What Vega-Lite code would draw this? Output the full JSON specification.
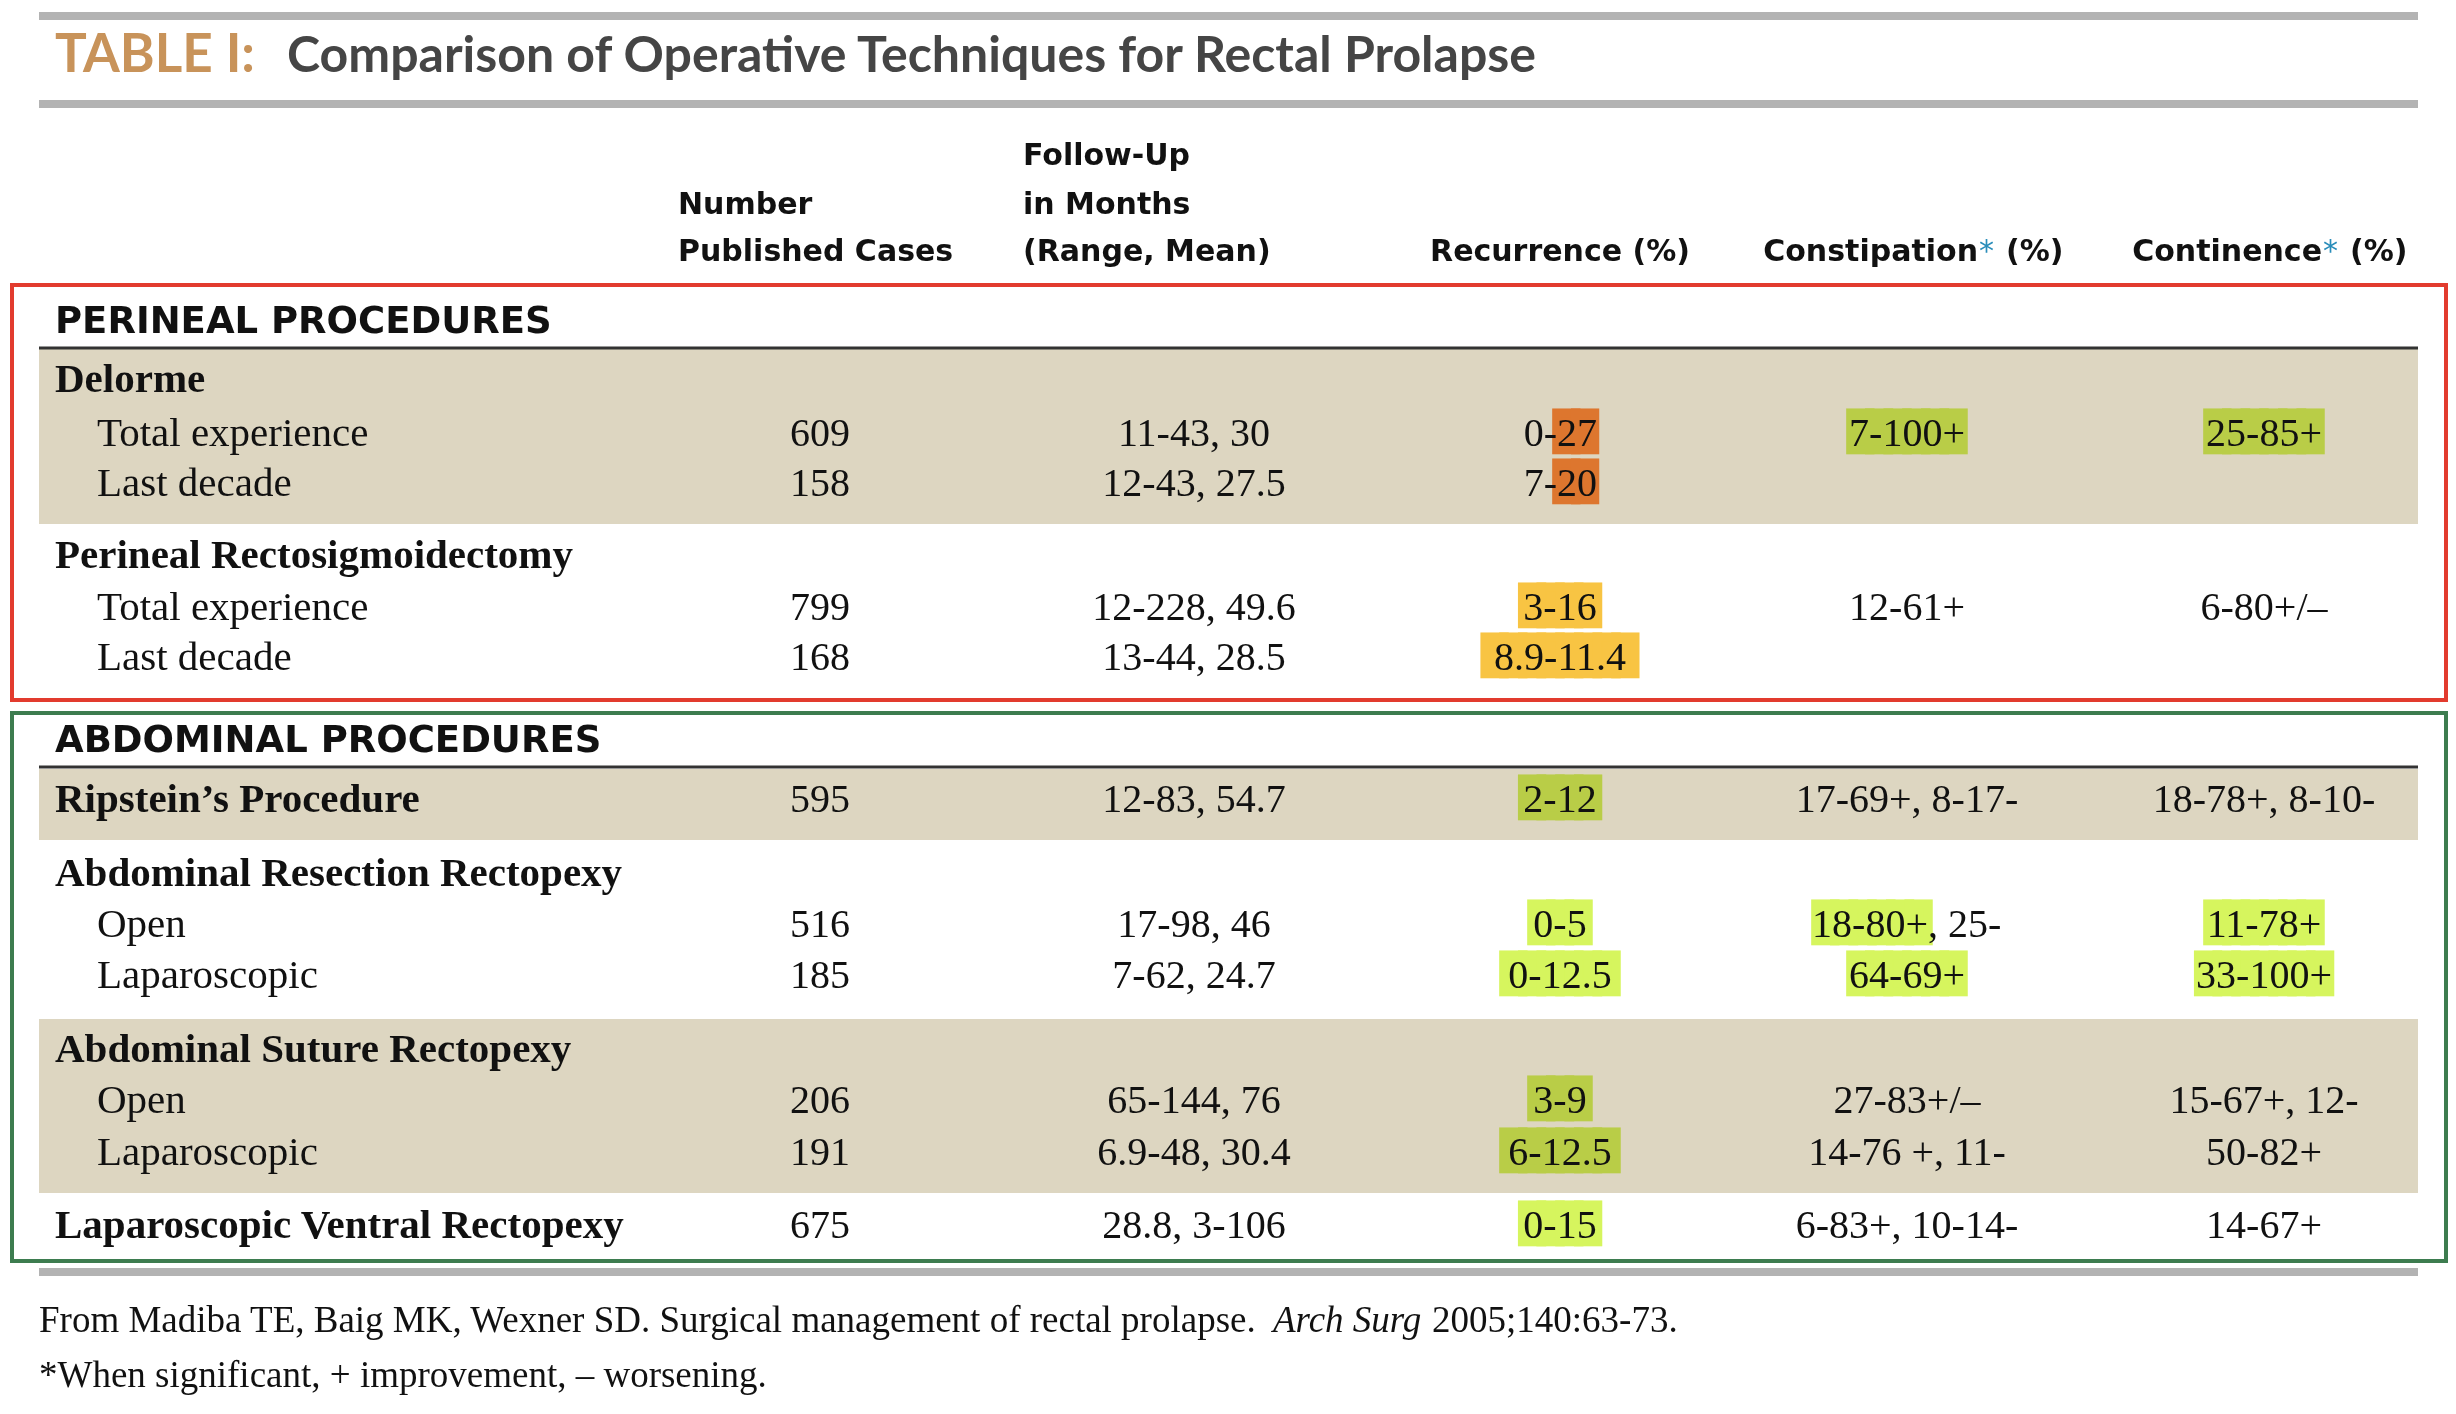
{
  "$schema": "https://vega.github.io/schema/vega-lite/v6.json",
  "width": 2456,
  "height": 1414,
  "autosize": {"type": "none"},
  "padding": 0,
  "background": "white",
  "config": {"view": {"stroke": null}},
  "datasets": {
    "cells": [
      {"r": 8, "c": 5, "text": "609"},
      {"r": 8, "c": 7, "text": "11-43, 30"},
      {"r": 8, "c": 8, "text": "0-27", "hl": "27", "hlc": "orange"},
      {"r": 8, "c": 9, "text": "7-100+", "hl": "7-100+", "hlc": "green"},
      {"r": 8, "c": 11, "text": "25-85+", "hl": "25-85+", "hlc": "green"},
      {"r": 9, "c": 5, "text": "158"},
      {"r": 9, "c": 7, "text": "12-43, 27.5"},
      {"r": 9, "c": 8, "text": "7-20", "hl": "20", "hlc": "orange"},
      {"r": 11, "c": 5, "text": "799"},
      {"r": 11, "c": 7, "text": "12-228, 49.6"},
      {"r": 11, "c": 8, "text": "3-16", "hl": "3-16", "hlc": "yellow"},
      {"r": 11, "c": 9, "text": "12-61+"},
      {"r": 11, "c": 11, "text": "6-80+/–"},
      {"r": 12, "c": 5, "text": "168"},
      {"r": 12, "c": 7, "text": "13-44, 28.5"},
      {"r": 12, "c": 8, "text": "8.9-11.4", "hl": "8.9-11.4", "hlc": "yellow"},
      {"r": 14, "c": 5, "text": "595"},
      {"r": 14, "c": 7, "text": "12-83, 54.7"},
      {"r": 14, "c": 8, "text": "2-12", "hl": "2-12", "hlc": "green"},
      {"r": 14, "c": 9, "text": "17-69+, 8-17-"},
      {"r": 14, "c": 11, "text": "18-78+, 8-10-"},
      {"r": 16, "c": 5, "text": "516"},
      {"r": 16, "c": 7, "text": "17-98, 46"},
      {"r": 16, "c": 8, "text": "0-5", "hl": "0-5", "hlc": "green"},
      {"r": 16, "c": 9, "text": "18-80+, 25-", "hl": "18-80+", "hlc": "green"},
      {"r": 16, "c": 11, "text": "11-78+", "hl": "11-78+", "hlc": "green"},
      {"r": 17, "c": 5, "text": "185"},
      {"r": 17, "c": 7, "text": "7-62, 24.7"},
      {"r": 17, "c": 8, "text": "0-12.5", "hl": "0-12.5", "hlc": "green"},
      {"r": 17, "c": 9, "text": "64-69+", "hl": "64-69+", "hlc": "green"},
      {"r": 17, "c": 11, "text": "33-100+", "hl": "33-100+", "hlc": "green"},
      {"r": 19, "c": 5, "text": "206"},
      {"r": 19, "c": 7, "text": "65-144, 76"},
      {"r": 19, "c": 8, "text": "3-9", "hl": "3-9", "hlc": "green"},
      {"r": 19, "c": 9, "text": "27-83+/–"},
      {"r": 19, "c": 11, "text": "15-67+, 12-"},
      {"r": 20, "c": 5, "text": "191"},
      {"r": 20, "c": 7, "text": "6.9-48, 30.4"},
      {"r": 20, "c": 8, "text": "6-12.5", "hl": "6-12.5", "hlc": "green"},
      {"r": 20, "c": 9, "text": "14-76 +, 11-"},
      {"r": 20, "c": 11, "text": "50-82+"},
      {"r": 21, "c": 5, "text": "675"},
      {"r": 21, "c": 7, "text": "28.8, 3-106"},
      {"r": 21, "c": 8, "text": "0-15", "hl": "0-15", "hlc": "green"},
      {"r": 21, "c": 9, "text": "6-83+, 10-14-"},
      {"r": 21, "c": 11, "text": "14-67+"}
    ],
    "labels": [
      {"r": 6, "level": "section", "text": "PERINEAL PROCEDURES"},
      {"r": 7, "level": "group", "text": "Delorme"},
      {"r": 8, "level": "item", "text": "Total experience"},
      {"r": 9, "level": "item", "text": "Last decade"},
      {"r": 10, "level": "group", "text": "Perineal Rectosigmoidectomy"},
      {"r": 11, "level": "item", "text": "Total experience"},
      {"r": 12, "level": "item", "text": "Last decade"},
      {"r": 13, "level": "section", "text": "ABDOMINAL PROCEDURES"},
      {"r": 14, "level": "group", "text": "Ripstein’s Procedure"},
      {"r": 15, "level": "group", "text": "Abdominal Resection Rectopexy"},
      {"r": 16, "level": "item", "text": "Open"},
      {"r": 17, "level": "item", "text": "Laparoscopic"},
      {"r": 18, "level": "group", "text": "Abdominal Suture Rectopexy"},
      {"r": 19, "level": "item", "text": "Open"},
      {"r": 20, "level": "item", "text": "Laparoscopic"},
      {"r": 21, "level": "group", "text": "Laparoscopic Ventral Rectopexy"}
    ],
    "headers": [
      {"r": 4, "c": 4, "kind": "left", "text": "Number"},
      {"r": 5, "c": 4, "kind": "left", "text": "Published Cases"},
      {"r": 3, "c": 6, "kind": "left", "text": "Follow-Up"},
      {"r": 4, "c": 6, "kind": "left", "text": "in Months"},
      {"r": 5, "c": 6, "kind": "left", "text": "(Range, Mean)"},
      {"r": 5, "c": 8, "kind": "center", "text": "Recurrence (%)"},
      {"r": 5, "c": 10, "kind": "star", "text": "Constipation", "star": "*", "tail": "(%)"},
      {"r": 5, "c": 12, "kind": "star", "text": "Continence", "star": "*", "tail": "(%)"}
    ],
    "bands": [
      {"group": "Delorme", "r1": 7, "r2": 9},
      {"group": "Ripstein", "r1": 14, "r2": 14},
      {"group": "Suture", "r1": 18, "r2": 20}
    ],
    "boxes": [
      {"section": "Perineal", "r1": 6, "r2": 12},
      {"section": "Abdominal", "r1": 13, "r2": 21}
    ],
    "bars": [{"r": 0}, {"r": 2}, {"r": 22}],
    "sectionRules": [{"r": 6}, {"r": 13}],
    "title": [{"r": 1, "label": "TABLE I:", "caption": "Comparison of Operative Techniques for Rectal Prolapse"}],
    "footer": [
      {"r": 23, "a": "From Madiba TE, Baig MK, Wexner SD. Surgical management of rectal prolapse.", "b": "Arch Surg", "d": "2005;140:63-73."},
      {"r": 24, "a": "*When significant, + improvement, – worsening."}
    ]
  },
  "layer": [
    {
      "data": {"name": "bands"},
      "mark": {"type": "rect", "color": "#DDD6C1", "yOffset": -43, "y2Offset": 28},
      "encoding": {
        "x": {"datum": 1, "type": "quantitative", "scale": {"domain": [0,1,2,3,4,5,6,7,8,9,10,11,12,13,14], "range": [12,39,55,97,678,820,1023,1194,1560,1907,1979,2264,2323,2418,2446], "zero": false, "nice": false}, "axis": null},
        "x2": {"datum": 13},
        "y": {"field": "r1", "type": "quantitative", "scale": {"domain": [0,1,2,3,4,5,6,7,8,9,10,11,12,13,14,15,16,17,18,19,20,21,22,23,24], "range": [16,72,104,165,214,261,333,392,446,496,568,620,670,752,812,886,937,988,1062,1113,1165,1238,1272,1332,1387], "zero": false, "nice": false}, "axis": null},
        "y2": {"field": "r2"}
      }
    },
    {
      "data": {"name": "bars"},
      "mark": {"type": "rule", "color": "#B3B3B3", "strokeWidth": 8},
      "encoding": {
        "x": {"datum": 1, "type": "quantitative"},
        "x2": {"datum": 13},
        "y": {"field": "r", "type": "quantitative"}
      }
    },
    {
      "data": {"name": "sectionRules"},
      "mark": {"type": "rule", "color": "#333333", "strokeWidth": 3, "yOffset": 15},
      "encoding": {
        "x": {"datum": 1, "type": "quantitative"},
        "x2": {"datum": 13},
        "y": {"field": "r", "type": "quantitative"}
      }
    },
    {
      "data": {"name": "boxes"},
      "transform": [{"filter": "datum.section == 'Perineal'"}],
      "mark": {"type": "rect", "filled": false, "stroke": "#E23B2E", "strokeWidth": 4, "yOffset": -48, "y2Offset": 30},
      "encoding": {
        "x": {"datum": 0, "type": "quantitative"},
        "x2": {"datum": 14},
        "y": {"field": "r1", "type": "quantitative"},
        "y2": {"field": "r2"}
      }
    },
    {
      "data": {"name": "boxes"},
      "transform": [{"filter": "datum.section == 'Abdominal'"}],
      "mark": {"type": "rect", "filled": false, "stroke": "#3D7C4F", "strokeWidth": 4, "yOffset": -39, "y2Offset": 23},
      "encoding": {
        "x": {"datum": 0, "type": "quantitative"},
        "x2": {"datum": 14},
        "y": {"field": "r1", "type": "quantitative"},
        "y2": {"field": "r2"}
      }
    },
    {
      "data": {"name": "cells"},
      "transform": [
        {"calculate": "isValid(datum.hl) ? indexof(datum.text, datum.hl) : -1", "as": "i"},
        {"calculate": "datum.i >= 0 ? substring(datum.text, 0, datum.i) : ''", "as": "pre"},
        {"calculate": "datum.i >= 0 ? substring(datum.text, datum.i + length(datum.hl)) : ''", "as": "post"},
        {"calculate": "datum.i < 0 ? 'none' : (datum.pre != '' ? 'end' : (datum.post != '' ? 'start' : 'all'))", "as": "mode"},
        {"calculate": "datum.i >= 0 ? replace(datum.hl, regexp('.', 'g'), '█') : ''", "as": "blocks"}
      ],
      "encoding": {
        "x": {"field": "c", "type": "quantitative"},
        "y": {"field": "r", "type": "quantitative"}
      },
      "layer": [
        {
          "transform": [{"filter": "datum.mode == 'all'"}],
          "mark": {"type": "text", "font": "DejaVu Sans Mono", "fontSize": 31, "align": "center", "baseline": "alphabetic", "dy": -4, "strokeWidth": 9, "strokeJoin": "miter", "blend": "multiply"},
          "encoding": {
            "text": {"field": "blocks"},
            "fill": {"field": "hlc", "type": "nominal", "scale": {"domain": ["orange", "yellow", "green"], "range": ["#FF8C3C", "#F8C443", "#D6F55E"]}, "legend": null},
            "stroke": {"field": "hlc", "type": "nominal", "scale": {"domain": ["orange", "yellow", "green"], "range": ["#FF8C3C", "#F8C443", "#D6F55E"]}, "legend": null}
          }
        },
        {
          "transform": [{"filter": "datum.mode == 'end'"}],
          "mark": {"type": "text", "font": "DejaVu Sans Mono", "fontSize": 31, "align": "left", "baseline": "alphabetic", "dx": -3, "dy": -4, "strokeWidth": 9, "strokeJoin": "miter", "blend": "multiply"},
          "encoding": {
            "text": {"field": "blocks"},
            "fill": {"field": "hlc", "type": "nominal", "legend": null},
            "stroke": {"field": "hlc", "type": "nominal", "legend": null}
          }
        },
        {
          "transform": [{"filter": "datum.mode == 'start'"}],
          "mark": {"type": "text", "font": "DejaVu Sans Mono", "fontSize": 31, "align": "right", "baseline": "alphabetic", "dx": 21, "dy": -4, "strokeWidth": 9, "strokeJoin": "miter", "blend": "multiply"},
          "encoding": {
            "text": {"field": "blocks"},
            "fill": {"field": "hlc", "type": "nominal", "legend": null},
            "stroke": {"field": "hlc", "type": "nominal", "legend": null}
          }
        },
        {
          "transform": [{"filter": "datum.mode == 'none' || datum.mode == 'all'"}],
          "mark": {"type": "text", "font": "Liberation Serif", "fontSize": 40, "align": "center", "baseline": "alphabetic", "color": "#111111"},
          "encoding": {"text": {"field": "text"}}
        },
        {
          "transform": [{"filter": "datum.mode == 'end'"}],
          "mark": {"type": "text", "font": "Liberation Serif", "fontSize": 40, "align": "right", "baseline": "alphabetic", "dx": -3, "color": "#111111"},
          "encoding": {"text": {"field": "pre"}}
        },
        {
          "transform": [{"filter": "datum.mode == 'end'"}],
          "mark": {"type": "text", "font": "Liberation Serif", "fontSize": 40, "align": "left", "baseline": "alphabetic", "dx": -3, "color": "#111111"},
          "encoding": {"text": {"field": "hl"}}
        },
        {
          "transform": [{"filter": "datum.mode == 'start'"}],
          "mark": {"type": "text", "font": "Liberation Serif", "fontSize": 40, "align": "right", "baseline": "alphabetic", "dx": 21, "color": "#111111"},
          "encoding": {"text": {"field": "hl"}}
        },
        {
          "transform": [{"filter": "datum.mode == 'start'"}],
          "mark": {"type": "text", "font": "Liberation Serif", "fontSize": 40, "align": "left", "baseline": "alphabetic", "dx": 21, "color": "#111111"},
          "encoding": {"text": {"field": "post"}}
        }
      ]
    },
    {
      "data": {"name": "labels"},
      "transform": [{"filter": "datum.level == 'section'"}],
      "mark": {"type": "text", "font": "DejaVu Sans", "fontWeight": "bold", "fontSize": 37, "align": "left", "baseline": "alphabetic", "color": "#111111"},
      "encoding": {
        "x": {"datum": 2, "type": "quantitative"},
        "y": {"field": "r", "type": "quantitative"},
        "text": {"field": "text"}
      }
    },
    {
      "data": {"name": "labels"},
      "transform": [{"filter": "datum.level == 'group'"}],
      "mark": {"type": "text", "font": "Liberation Serif", "fontWeight": "bold", "fontSize": 41, "align": "left", "baseline": "alphabetic", "color": "#111111"},
      "encoding": {
        "x": {"datum": 2, "type": "quantitative"},
        "y": {"field": "r", "type": "quantitative"},
        "text": {"field": "text"}
      }
    },
    {
      "data": {"name": "labels"},
      "transform": [{"filter": "datum.level == 'item'"}],
      "mark": {"type": "text", "font": "Liberation Serif", "fontSize": 41, "align": "left", "baseline": "alphabetic", "color": "#111111"},
      "encoding": {
        "x": {"datum": 3, "type": "quantitative"},
        "y": {"field": "r", "type": "quantitative"},
        "text": {"field": "text"}
      }
    },
    {
      "data": {"name": "headers"},
      "transform": [{"filter": "datum.kind == 'left'"}],
      "mark": {"type": "text", "font": "DejaVu Sans", "fontWeight": "bold", "fontSize": 30, "align": "left", "baseline": "alphabetic", "color": "#111111"},
      "encoding": {
        "x": {"field": "c", "type": "quantitative"},
        "y": {"field": "r", "type": "quantitative"},
        "text": {"field": "text"}
      }
    },
    {
      "data": {"name": "headers"},
      "transform": [{"filter": "datum.kind == 'center'"}],
      "mark": {"type": "text", "font": "DejaVu Sans", "fontWeight": "bold", "fontSize": 30, "align": "center", "baseline": "alphabetic", "color": "#111111"},
      "encoding": {
        "x": {"field": "c", "type": "quantitative"},
        "y": {"field": "r", "type": "quantitative"},
        "text": {"field": "text"}
      }
    },
    {
      "data": {"name": "headers"},
      "transform": [{"filter": "datum.kind == 'star'"}],
      "mark": {"type": "text", "font": "DejaVu Sans", "fontWeight": "bold", "fontSize": 30, "align": "right", "baseline": "alphabetic", "color": "#111111", "dx": -1},
      "encoding": {
        "x": {"field": "c", "type": "quantitative"},
        "y": {"field": "r", "type": "quantitative"},
        "text": {"field": "text"}
      }
    },
    {
      "data": {"name": "headers"},
      "transform": [{"filter": "datum.kind == 'star'"}],
      "mark": {"type": "text", "font": "DejaVu Sans", "fontWeight": "normal", "fontSize": 30, "align": "left", "baseline": "alphabetic", "color": "#2A8DBA"},
      "encoding": {
        "x": {"field": "c", "type": "quantitative"},
        "y": {"field": "r", "type": "quantitative"},
        "text": {"field": "star"}
      }
    },
    {
      "data": {"name": "headers"},
      "transform": [{"filter": "datum.kind == 'star'"}],
      "mark": {"type": "text", "font": "DejaVu Sans", "fontWeight": "bold", "fontSize": 30, "align": "left", "baseline": "alphabetic", "color": "#111111", "dx": 27},
      "encoding": {
        "x": {"field": "c", "type": "quantitative"},
        "y": {"field": "r", "type": "quantitative"},
        "text": {"field": "tail"}
      }
    },
    {
      "data": {"name": "title"},
      "mark": {"type": "text", "font": "Lato", "fontWeight": "bold", "fontSize": 53, "align": "left", "baseline": "alphabetic", "color": "#C8935A"},
      "encoding": {
        "x": {"datum": 2, "type": "quantitative"},
        "y": {"field": "r", "type": "quantitative"},
        "text": {"field": "label"}
      }
    },
    {
      "data": {"name": "title"},
      "mark": {"type": "text", "font": "Lato", "fontWeight": "bold", "fontSize": 50, "align": "left", "baseline": "alphabetic", "color": "#454545", "dx": 232},
      "encoding": {
        "x": {"datum": 2, "type": "quantitative"},
        "y": {"field": "r", "type": "quantitative"},
        "text": {"field": "caption"}
      }
    },
    {
      "data": {"name": "footer"},
      "mark": {"type": "text", "font": "Liberation Serif", "fontSize": 37, "align": "left", "baseline": "alphabetic", "color": "#111111"},
      "encoding": {
        "x": {"datum": 1, "type": "quantitative"},
        "y": {"field": "r", "type": "quantitative"},
        "text": {"field": "a"}
      }
    },
    {
      "data": {"name": "footer"},
      "transform": [{"filter": "isValid(datum.b)"}],
      "mark": {"type": "text", "font": "Liberation Serif", "fontStyle": "italic", "fontSize": 37, "align": "left", "baseline": "alphabetic", "color": "#111111", "dx": 1234},
      "encoding": {
        "x": {"datum": 1, "type": "quantitative"},
        "y": {"field": "r", "type": "quantitative"},
        "text": {"field": "b"}
      }
    },
    {
      "data": {"name": "footer"},
      "transform": [{"filter": "isValid(datum.d)"}],
      "mark": {"type": "text", "font": "Liberation Serif", "fontSize": 37, "align": "left", "baseline": "alphabetic", "color": "#111111", "dx": 1393},
      "encoding": {
        "x": {"datum": 1, "type": "quantitative"},
        "y": {"field": "r", "type": "quantitative"},
        "text": {"field": "d"}
      }
    }
  ]
}
